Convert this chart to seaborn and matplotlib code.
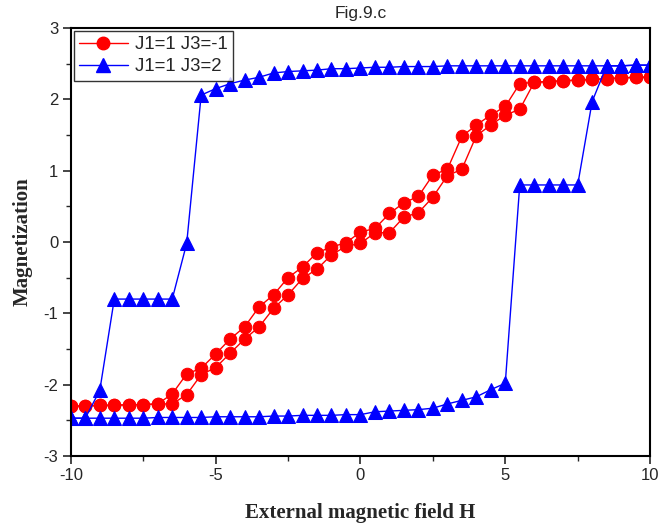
import numpy as np
import pandas as pd
import seaborn as sns
import matplotlib
matplotlib.use("Agg")
import matplotlib.pyplot as plt

# Field sweep: -10 .. 10 in steps of 0.5
field = [-10.0, -9.5, -9.0, -8.5, -8.0, -7.5, -7.0, -6.5, -6.0, -5.5, -5.0,
         -4.5, -4.0, -3.5, -3.0, -2.5, -2.0, -1.5, -1.0, -0.5, 0.0,
         0.5, 1.0, 1.5, 2.0, 2.5, 3.0, 3.5, 4.0, 4.5, 5.0,
         5.5, 6.0, 6.5, 7.0, 7.5, 8.0, 8.5, 9.0, 9.5, 10.0]

# J1=1 J3=-1 : upper and lower branches of the loop
red_upper = [-2.30, -2.30, -2.29, -2.29, -2.28, -2.28, -2.27, -2.13, -1.85, -1.77, -1.57,
             -1.36, -1.19, -0.91, -0.74, -0.50, -0.35, -0.15, -0.07, -0.01, 0.14,
             0.19, 0.40, 0.55, 0.64, 0.94, 1.02, 1.48, 1.64, 1.78, 1.90,
             2.22, 2.24, 2.25, 2.26, 2.27, 2.28, 2.29, 2.30, 2.31, 2.31]
red_lower = [-2.30, -2.30, -2.29, -2.29, -2.28, -2.28, -2.27, -2.27, -2.14, -1.86, -1.76,
             -1.56, -1.36, -1.19, -0.93, -0.74, -0.51, -0.38, -0.18, -0.06, -0.02,
             0.13, 0.13, 0.35, 0.41, 0.63, 0.93, 1.02, 1.49, 1.64, 1.78,
             1.86, 2.24, 2.25, 2.26, 2.27, 2.28, 2.29, 2.30, 2.31, 2.31]

# J1=1 J3=2 : upper and lower branches of the loop
blue_upper = [-2.47, -2.47, -2.08, -0.80, -0.80, -0.80, -0.80, -0.80, -0.02, 2.06, 2.15,
              2.22, 2.27, 2.31, 2.37, 2.39, 2.40, 2.41, 2.43, 2.43, 2.44,
              2.45, 2.45, 2.46, 2.46, 2.46, 2.47, 2.47, 2.47, 2.47, 2.47,
              2.47, 2.47, 2.47, 2.47, 2.47, 2.47, 2.47, 2.47, 2.48, 2.48]
blue_lower = [-2.47, -2.47, -2.47, -2.47, -2.47, -2.47, -2.46, -2.46, -2.46, -2.46, -2.45,
              -2.45, -2.45, -2.45, -2.44, -2.44, -2.43, -2.43, -2.43, -2.42, -2.42,
              -2.38, -2.37, -2.36, -2.35, -2.33, -2.27, -2.22, -2.17, -2.07, -1.98,
              0.80, 0.80, 0.80, 0.80, 0.80, 1.97, 2.47, 2.47, 2.48, 2.48]

series_names = ["J1=1 J3=-1", "J1=1 J3=2"]
series_colors = ["#FF0000", "#0000FF"]
series_markers = ["o", "^"]
x_ticks = [-10, -5, 0, 5, 10]
y_ticks = [-3, -2, -1, 0, 1, 2, 3]

rows = []
for name, branches in zip(series_names, [(red_upper, red_lower), (blue_upper, blue_lower)]):
    for b, vals in zip(["up", "down"], branches):
        for h, m in zip(field, vals):
            rows.append({"H": h, "M": m, "series": name, "branch": b})
df = pd.DataFrame(rows)

sns.set_theme(style="white")
plt.rcParams["font.family"] = ["Liberation Sans", "DejaVu Sans"]
plt.rcParams["axes.unicode_minus"] = False

fig = plt.figure(figsize=(6.62, 5.29), dpi=100)
ax = fig.add_axes([0.107, 0.138, 0.875, 0.809])

handles = []
for name, color, mk in zip(series_names, series_colors, series_markers):
    sub = df[df["series"] == name]
    ms = 9.5 if mk == "^" else 9
    for b in ["up", "down"]:
        part = sub[sub["branch"] == b]
        sns.lineplot(data=part, x="H", y="M", ax=ax, color=color, marker=mk,
                     markersize=ms, markeredgecolor=color,
                     linewidth=1.0, estimator=None, sort=False, legend=False)
    handles.append(plt.Line2D([], [], color=color, marker=mk, linewidth=1.0,
                              markersize=ms, label=name))

ax.set_xlim(-10, 10)
ax.set_ylim(-3, 3)
ax.set_xticks(x_ticks)
ax.set_yticks(y_ticks)
ax.set_xticks(np.arange(-7.5, 10, 5), minor=True)
ax.set_yticks(np.arange(-2.5, 3, 1), minor=True)
ax.tick_params(axis="both", which="major", direction="out", length=6, width=1.2,
               labelsize=12, bottom=True, left=True, top=False, right=False, pad=3)
ax.tick_params(axis="both", which="minor", direction="out", length=3.5, width=1.0,
               bottom=True, left=True, top=False, right=False)
for s in ax.spines.values():
    s.set_color("black")
    s.set_linewidth(1.5)

ax.set_xlabel("External magnetic field H", family=["Liberation Serif"], fontweight="bold",
              fontsize=15, labelpad=14)
ax.set_ylabel("Magnetization", family=["Liberation Serif"], fontweight="bold",
              fontsize=15, labelpad=8)
ax.set_title("Fig.9.c", fontsize=12.5, pad=7)

leg = ax.legend(handles=handles, loc="upper left", fontsize=13.4, frameon=True,
                fancybox=False, edgecolor="black", borderaxespad=0.15,
                handlelength=2.6, borderpad=0.3, labelspacing=0.25, handletextpad=0.4)
leg.get_frame().set_linewidth(1.0)

fig.savefig("out.png", dpi=100)
